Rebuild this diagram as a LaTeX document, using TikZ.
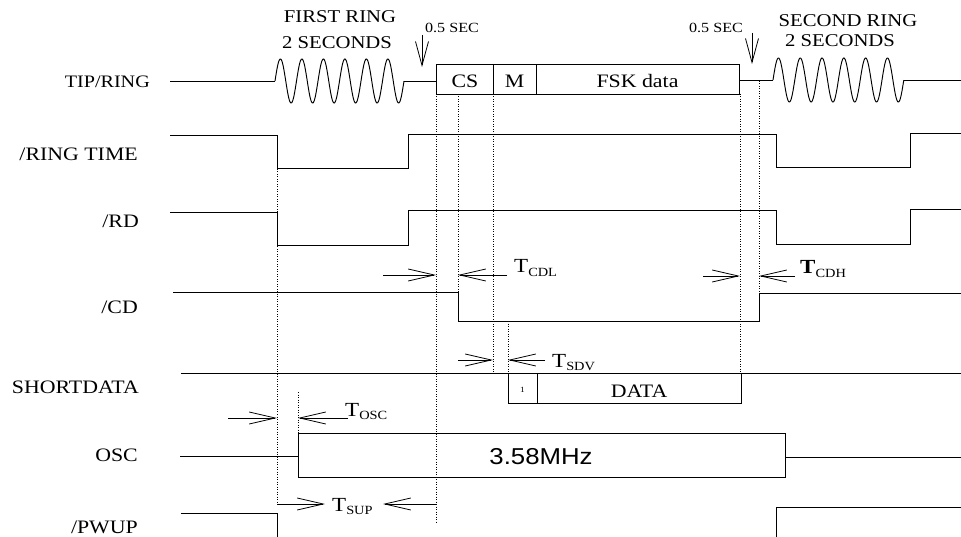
\documentclass[tikz,border=0pt]{standalone}
\usepackage{fontspec}
\setmainfont{Liberation Serif}[FakeStretch=1.15]
\newfontfamily\hvfont{Liberation Sans}[FakeStretch=1.12]
\usetikzlibrary{arrows.meta}
\newcommand{\fsz}[1]{\fontsize{#1}{#1}\selectfont}
\newcommand{\tsub}[1]{T{\fsz{12.5}\raisebox{-3.5pt}{#1}}}
\begin{document}
\begin{tikzpicture}[x=1pt,y=-1pt,
  sig/.style={line width=0.95pt, line join=miter},
  dots/.style={line width=0.7pt, dash pattern=on 0.9pt off 1.6pt},
  tarr/.style={line width=0.8pt, -{Straight Barb[length=26pt,width=12pt,line width=0.8pt]}},
  varr/.style={line width=0.8pt, -{Straight Barb[length=24pt,width=13pt,line width=0.8pt]}},
  lbl/.style={anchor=base east, inner sep=0, font=\fsz{19}},
  ann/.style={anchor=base, inner sep=0, font=\fsz{18}},
  small/.style={anchor=base, inner sep=0, font=\fsz{14}},
  boxt/.style={anchor=base, inner sep=0, font=\fsz{19}},
  tlab/.style={anchor=base west, inner sep=0, font=\fsz{20}}]
\useasboundingbox (0,0) rectangle (961,537);

% signal labels
\node[lbl, font=\fsz{17.5}] (l1) at (150,88) {TIP/RING};
\node[lbl] (l2) at (138,161) {/RING TIME};
\node[lbl] (l3) at (139,228) {/RD};
\node[lbl] (l4) at (138,313) {/CD};
\node[lbl] (l5) at (139,393) {SHORTDATA};
\node[lbl] (l6) at (138,461) {OSC};
\node[lbl] (l7) at (138,533) {/PWUP};

% annotations
\node[ann] (fr) at (340,23) {FIRST RING};
\node[ann] (fs) at (337,49) {2 SECONDS};
\node[ann] (sr) at (848,27) {SECOND RING};
\node[ann] (ss) at (840,47) {2 SECONDS};
\node[small] (h1) at (452,33) {0.5 SEC};
\node[small] (h2) at (716,33) {0.5 SEC};
\coordinate (a1s) at (422,35); \coordinate (a1e) at (422,67);
\coordinate (a2s) at (752,33); \coordinate (a2e) at (752,64);
\draw[varr] (a1s) -- (a1e);
\draw[varr] (a2s) -- (a2e);

% TIP/RING
\draw[sig] (170,81) -- (275,81);
\draw[sig] plot[domain=0:6,samples=300,smooth] ({275+\x*21.5},{81-22*sin(\x*360)});
\draw[sig] (404,81) -- (436,81);
\draw[sig] (436,64) rectangle (739,94);
\draw[sig] (493,64) -- (493,94);
\draw[sig] (536,64) -- (536,94);
\node[boxt] (cs) at (465,88) {CS};
\node[boxt] (m) at (514.5,88) {M};
\node[boxt] (fsk) at (637.5,88) {FSK data};
\draw[sig] (739,80) -- (773,80);
\draw[sig] plot[domain=0:6,samples=300,smooth] ({773+\x*21.8},{80-22*sin(\x*360)});
\draw[sig] (904,80) -- (961,80);

% /RING TIME
\draw[sig] (170,135) -- (277,135) -- (277,168) -- (408,168) -- (408,134) -- (776,134) -- (776,167) -- (910,167) -- (910,133) -- (961,133);
% /RD
\draw[sig] (170,212) -- (277,212) -- (277,245) -- (408,245) -- (408,210) -- (776,210) -- (776,244) -- (910,244) -- (910,209) -- (961,209);
% /CD
\draw[sig] (173,292) -- (458,292) -- (458,321) -- (759,321) -- (759,293) -- (961,293);
% SHORTDATA
\draw[sig] (181,373) -- (961,373);
\draw[sig] (508,373) rectangle (741,403);
\draw[sig] (537,373) -- (537,403);
\node[anchor=base, inner sep=0, font=\fsz{8}] (one) at (522.5,392) {1};
\node[boxt] (data) at (639,397) {DATA};
% OSC
\draw[sig] (180,456) -- (298,456);
\draw[sig] (298,433) rectangle (785,477);
\draw[sig] (785,457) -- (961,457);
\node[anchor=base, inner sep=0, font=\hvfont\fsz{23}] (mhz) at (541,464) {3.58MHz};
% /PWUP
\draw[sig] (181,513) -- (277,513) -- (277,538);
\draw[sig] (776,538) -- (776,507) -- (961,507);

% dotted guides
\draw[dots] (277,169) -- (277,504);
\draw[dots] (436,94) -- (436,522);
\draw[dots] (458,94) -- (458,292);
\draw[dots] (493,94) -- (493,373);
\draw[dots] (508,321) -- (508,373);
\draw[dots] (740,94) -- (740,373);
\draw[dots] (759,81) -- (759,293);
\draw[dots] (298,392) -- (298,433);

% timing arrows
\coordinate (cdl1) at (383,275); \coordinate (cdl1e) at (436,275);
\coordinate (cdl2) at (507,275); \coordinate (cdl2e) at (458,275);
\draw[tarr] (cdl1) -- (cdl1e);
\draw[tarr] (cdl2) -- (cdl2e);
\node[tlab] (tcdl) at (514,273) {\tsub{CDL}};

\coordinate (cdh1) at (703,276); \coordinate (cdh1e) at (740,276);
\coordinate (cdh2) at (795,276); \coordinate (cdh2e) at (759,276);
\draw[tarr] (cdh1) -- (cdh1e);
\draw[tarr] (cdh2) -- (cdh2e);
\node[tlab] (tcdh) at (800,274) {\textbf{T}{\fsz{12.5}\raisebox{-3.5pt}{CDH}}};

\coordinate (sdv1) at (458,360); \coordinate (sdv1e) at (493,360);
\coordinate (sdv2) at (545,360); \coordinate (sdv2e) at (508,360);
\draw[tarr] (sdv1) -- (sdv1e);
\draw[tarr] (sdv2) -- (sdv2e);
\node[tlab] (tsdv) at (552,367) {\tsub{SDV}};

\coordinate (osc1) at (228,418); \coordinate (osc1e) at (277,418);
\coordinate (osc2) at (348,418); \coordinate (osc2e) at (298,418);
\draw[tarr] (osc1) -- (osc1e);
\draw[tarr] (osc2) -- (osc2e);
\node[tlab] (tosc) at (345,416) {\tsub{OSC}};

\coordinate (sup1) at (277,504); \coordinate (sup1e) at (325,504);
\coordinate (sup2) at (436,504); \coordinate (sup2e) at (383,504);
\draw[tarr] (sup1) -- (sup1e);
\draw[tarr] (sup2) -- (sup2e);
\node[tlab] (tsup) at (332,511) {\tsub{SUP}};
\end{tikzpicture}
\end{document}
